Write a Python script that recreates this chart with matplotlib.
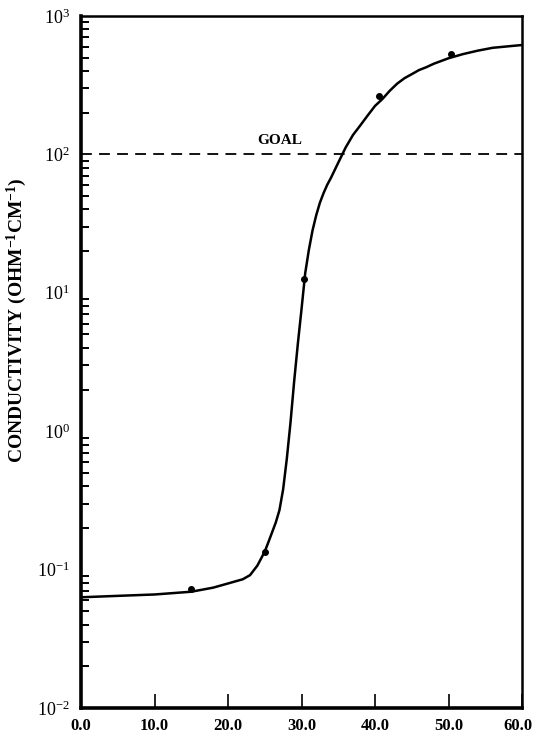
import matplotlib.pyplot as plt
import matplotlib.transforms as mtransforms
from matplotlib.ticker import LogLocator, NullFormatter, FixedLocator

plt.rcParams['font.family'] = ['Liberation Serif', 'DejaVu Serif']
plt.rcParams['mathtext.fontset'] = 'custom'
plt.rcParams['mathtext.rm'] = 'Liberation Serif'
plt.rcParams['mathtext.it'] = 'Liberation Serif:italic'
plt.rcParams['mathtext.bf'] = 'Liberation Serif:bold'

# Measured points
pts_x = [15.0, 25.0, 30.3, 40.5, 50.3]
pts_y = [0.072, 0.135, 12.6, 263, 530]

# Fitted curve
curve_x = [0, 5, 10, 15, 18, 20, 22, 23, 24, 25, 25.5, 26, 26.5, 27, 27.5,
           28, 28.5, 29, 29.5, 30, 30.5, 31, 31.5, 32, 32.5, 33, 33.5, 34,
           35, 36, 37, 38, 39, 40, 41, 42, 43, 44, 45, 46, 47, 48, 49, 50,
           52, 54, 56, 58, 60]
curve_y = [0.0631, 0.0646, 0.0661, 0.0692, 0.0741, 0.0794, 0.0851, 0.0912,
           0.107, 0.135, 0.158, 0.186, 0.219, 0.269, 0.380, 0.631, 1.15, 2.29,
           4.27, 7.59, 13.8, 20.4, 28.2, 36.3, 44.7, 52.5, 60.3, 67.6, 87.1,
           112, 138, 162, 191, 224, 251, 288, 324, 355, 380, 407, 427, 452,
           473, 495, 531, 562, 589, 603, 617]

goal = 100
x_ticks = [0, 10, 20, 30, 40, 50, 60]
x_labels = ["0.0", "10.0", "20.0", "30.0", "40.0", "50.0", "60.0"]

fig = plt.figure(figsize=(5.35, 7.33), dpi=100)
ax = fig.add_axes([81 / 535, 1 - 708 / 733, 441 / 535, 692 / 733])

ax.plot(curve_x, curve_y, color='black', lw=1.8)
ax.plot(pts_x, pts_y, 'o', color='black', ms=4)
ax.axhline(goal, color='black', lw=1.3, dashes=(6, 4))
ax.text(27.0, goal * 1.13, "GOAL", ha='center', va='bottom',
        fontsize=11, fontweight='bold')

ax.set_yscale('log')
ax.set_xlim(0, 60)
ax.set_ylim(1e-2, 1e3)

ax.xaxis.set_major_locator(FixedLocator(x_ticks))
ax.set_xticklabels(x_labels, fontsize=12, fontweight='bold')
ax.yaxis.set_major_locator(LogLocator(base=10))
ax.yaxis.set_minor_locator(LogLocator(base=10, subs=range(2, 10)))
ax.yaxis.set_minor_formatter(NullFormatter())
ax.tick_params(axis='x', direction='in', length=10, width=1.2, top=False,
               labelsize=12, pad=7)
ax.tick_params(axis='y', which='major', direction='in', length=0,
               labelsize=13, pad=8, right=False)
ax.tick_params(axis='y', which='minor', direction='in', length=6, width=1.4,
               right=False)

# keep the last x label inside the figure
last = ax.get_xticklabels()[-1]
last.set_transform(last.get_transform() +
                   mtransforms.ScaledTranslation(-4 / 100, 0, fig.dpi_scale_trans))

for s in ax.spines.values():
    s.set_linewidth(1.8)
ax.spines['left'].set_linewidth(2.6)
ax.spines['bottom'].set_linewidth(2.6)

ax.set_ylabel(r"CONDUCTIVITY (OHM$^{\mathbf{-1}}$CM$^{\mathbf{-1}}$)",
              fontsize=14, fontweight='bold')
ax.yaxis.set_label_coords(-0.117, 0.561)

fig.savefig("out.png", dpi=100)
